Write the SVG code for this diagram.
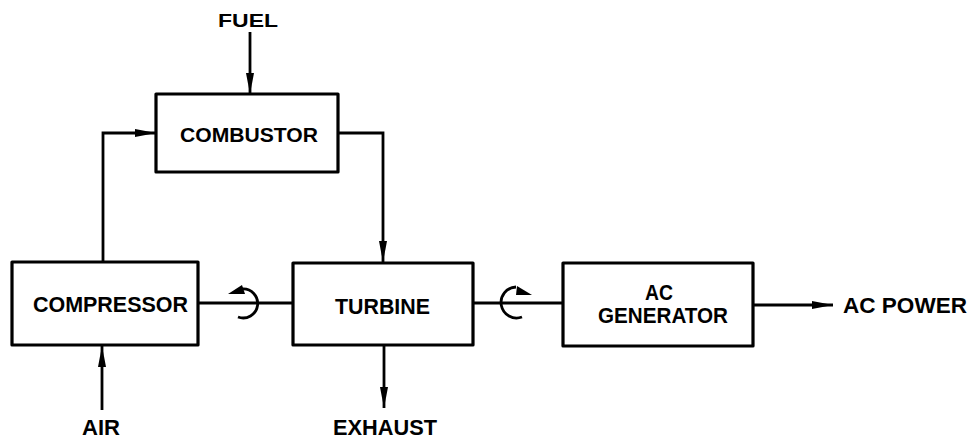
<svg xmlns="http://www.w3.org/2000/svg" width="971" height="447" viewBox="0 0 971 447">
<defs>
<style>
.box{fill:#fff;stroke:#000;stroke-width:3.2;stroke-linejoin:round}
.ln{fill:none;stroke:#000;stroke-width:2.8}
.t{font-family:"Liberation Sans",Arial,sans-serif;font-weight:bold;font-size:22px;fill:#000}
.ah{fill:#000}
</style>
<marker id="arr" markerUnits="userSpaceOnUse" markerWidth="22" markerHeight="10" refX="21" refY="5" orient="auto">
<path d="M0,1 L21,5 L0,9 z" fill="#000"/>
</marker>
</defs>
<rect width="971" height="447" fill="#fff"/>
<g id="connectors">
<path class="ln" d="M250,32 V94" marker-end="url(#arr)"/>
<path class="ln" d="M103,262 V133 H156" marker-end="url(#arr)"/>
<path class="ln" d="M338,133 H383 V262" marker-end="url(#arr)"/>
<path class="ln" d="M102,410 V346" marker-end="url(#arr)"/>
<path class="ln" d="M384,346 V408" marker-end="url(#arr)"/>
<path class="ln" d="M753,305 H833" marker-end="url(#arr)"/>
<path class="ln" d="M198,303 H292"/>
<path class="ln" d="M472,303 H563"/>
<g id="rot1">
<path class="ln" d="M238,317 A14.5,14.5 0 1 0 242,289"/>
<path class="ah" d="M228,294 L242,285 L245,294 z"/>
</g>
<g id="rot2">
<path class="ln" d="M522,317 A15.5,15.5 0 1 1 516,287"/>
<path class="ah" d="M532,295 L517,286 L516,295 z"/>
</g>
</g>
<g id="fuel"><text class="t" x="218" y="27" textLength="60" lengthAdjust="spacingAndGlyphs" style="font-size:19px">FUEL</text></g>
<g id="combustor">
<rect class="box" x="156" y="94" width="182" height="78"/>
<text class="t" x="180" y="142" textLength="138" lengthAdjust="spacingAndGlyphs" style="font-size:21px">COMBUSTOR</text>
</g>
<g id="compressor">
<rect class="box" x="12" y="262" width="186" height="83"/>
<text class="t" x="33" y="312" textLength="155" lengthAdjust="spacingAndGlyphs">COMPRESSOR</text>
</g>
<g id="turbine">
<rect class="box" x="293" y="263" width="180" height="82"/>
<text class="t" x="335" y="314" textLength="95" lengthAdjust="spacingAndGlyphs">TURBINE</text>
</g>
<g id="generator">
<rect class="box" x="563" y="263" width="190" height="83"/>
<text class="t" x="645" y="300" textLength="28" lengthAdjust="spacingAndGlyphs">AC</text>
<text class="t" x="598" y="323" textLength="130" lengthAdjust="spacingAndGlyphs">GENERATOR</text>
</g>
<g id="acpower"><text class="t" x="843" y="313" textLength="124" lengthAdjust="spacingAndGlyphs">AC POWER</text></g>
<g id="air"><text class="t" x="82" y="435" textLength="38" lengthAdjust="spacingAndGlyphs">AIR</text></g>
<g id="exhaust"><text class="t" x="333" y="435" textLength="104" lengthAdjust="spacingAndGlyphs">EXHAUST</text></g>
</svg>
